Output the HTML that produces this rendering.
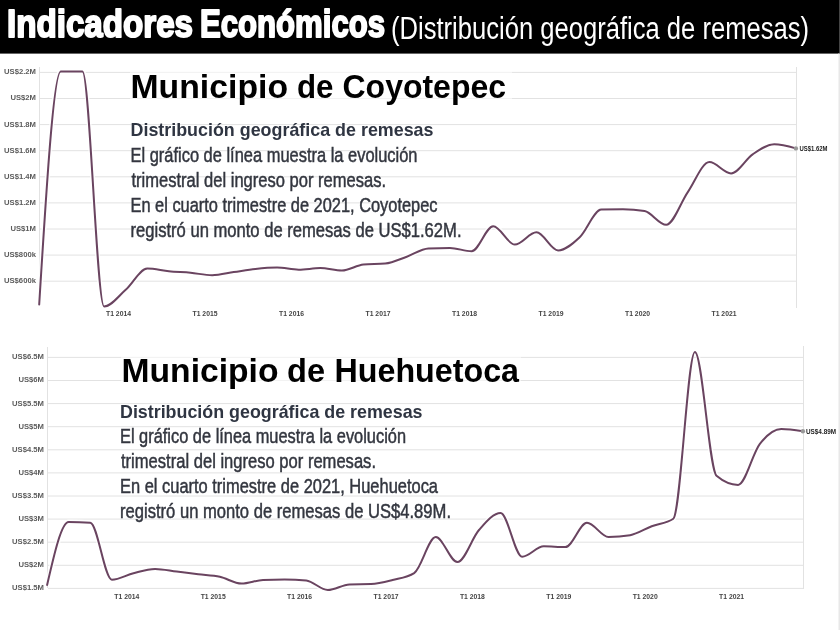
<!DOCTYPE html>
<html><head><meta charset="utf-8"><title>Indicadores Económicos</title>
<style>html,body{margin:0;padding:0;background:#fff;width:840px;height:630px;overflow:hidden;font-family:"Liberation Sans",sans-serif}svg{display:block;will-change:transform}</style>
</head><body>
<svg width="840" height="630" viewBox="0 0 840 630" font-family='"Liberation Sans", sans-serif'><rect x="0" y="0" width="840" height="53.6" fill="#000"/>
<rect x="839" y="0" width="1" height="53.6" fill="#444"/>
<rect x="838" y="53.6" width="1" height="576.4" fill="#f3f3f3"/>
<rect x="839" y="53.6" width="1" height="576.4" fill="#e8e8e8"/>
<text x="7.0" y="37.4" font-size="39.00" font-weight="bold" fill="#fff" text-anchor="start" textLength="186.0" lengthAdjust="spacingAndGlyphs" stroke="#fff" stroke-width="2.0" stroke-linejoin="round">Indicadores</text>
<text x="200.0" y="37.4" font-size="39.00" font-weight="bold" fill="#fff" text-anchor="start" textLength="185.0" lengthAdjust="spacingAndGlyphs" stroke="#fff" stroke-width="2.0" stroke-linejoin="round">Económicos</text>
<text x="391.0" y="38.6" font-size="31.00" font-weight="normal" fill="#fff" text-anchor="start" textLength="418.0" lengthAdjust="spacingAndGlyphs">(Distribución geográfica de remesas)</text>
<line x1="40" y1="72.4" x2="797" y2="72.4" stroke="#e2e2e2" stroke-width="1"/>
<line x1="40" y1="98.5" x2="797" y2="98.5" stroke="#e2e2e2" stroke-width="1"/>
<line x1="40" y1="124.6" x2="797" y2="124.6" stroke="#e2e2e2" stroke-width="1"/>
<line x1="40" y1="150.7" x2="797" y2="150.7" stroke="#e2e2e2" stroke-width="1"/>
<line x1="40" y1="176.8" x2="797" y2="176.8" stroke="#e2e2e2" stroke-width="1"/>
<line x1="40" y1="202.9" x2="797" y2="202.9" stroke="#e2e2e2" stroke-width="1"/>
<line x1="40" y1="229.0" x2="797" y2="229.0" stroke="#e2e2e2" stroke-width="1"/>
<line x1="40" y1="255.1" x2="797" y2="255.1" stroke="#e2e2e2" stroke-width="1"/>
<line x1="40" y1="281.2" x2="797" y2="281.2" stroke="#e2e2e2" stroke-width="1"/>
<line x1="39.5" y1="67" x2="39.5" y2="300" stroke="#e2e2e2" stroke-width="1"/>
<line x1="796.5" y1="67" x2="796.5" y2="308" stroke="#e2e2e2" stroke-width="1"/>
<line x1="48" y1="357.4" x2="804" y2="357.4" stroke="#e2e2e2" stroke-width="1"/>
<line x1="48" y1="380.5" x2="804" y2="380.5" stroke="#e2e2e2" stroke-width="1"/>
<line x1="48" y1="403.6" x2="804" y2="403.6" stroke="#e2e2e2" stroke-width="1"/>
<line x1="48" y1="426.7" x2="804" y2="426.7" stroke="#e2e2e2" stroke-width="1"/>
<line x1="48" y1="449.8" x2="804" y2="449.8" stroke="#e2e2e2" stroke-width="1"/>
<line x1="48" y1="472.9" x2="804" y2="472.9" stroke="#e2e2e2" stroke-width="1"/>
<line x1="48" y1="496.0" x2="804" y2="496.0" stroke="#e2e2e2" stroke-width="1"/>
<line x1="48" y1="519.1" x2="804" y2="519.1" stroke="#e2e2e2" stroke-width="1"/>
<line x1="48" y1="542.2" x2="804" y2="542.2" stroke="#e2e2e2" stroke-width="1"/>
<line x1="48" y1="565.3" x2="804" y2="565.3" stroke="#e2e2e2" stroke-width="1"/>
<line x1="48" y1="588.4" x2="804" y2="588.4" stroke="#e2e2e2" stroke-width="1"/>
<line x1="47.5" y1="347" x2="47.5" y2="588" stroke="#e2e2e2" stroke-width="1"/>
<line x1="803.5" y1="346" x2="803.5" y2="589" stroke="#e2e2e2" stroke-width="1"/>
<rect x="130" y="70" width="382" height="30" fill="#fff" fill-opacity="0.55"/>
<text x="130.5" y="97.8" font-size="33.20" font-weight="bold" fill="#000" text-anchor="start" textLength="157.5" lengthAdjust="spacingAndGlyphs">Municipio</text>
<text x="297.0" y="97.8" font-size="33.20" font-weight="bold" fill="#000" text-anchor="start" textLength="36.5" lengthAdjust="spacingAndGlyphs">de</text>
<text x="342.5" y="97.8" font-size="33.20" font-weight="bold" fill="#000" text-anchor="start" textLength="163.5" lengthAdjust="spacingAndGlyphs">Coyotepec</text>
<text x="130.5" y="136.4" font-size="18.40" font-weight="bold" fill="#2f3542" text-anchor="start" textLength="303.0" lengthAdjust="spacingAndGlyphs">Distribución geográfica de remesas</text>
<text x="130.5" y="162.1" font-size="20.50" font-weight="normal" fill="#33363f" text-anchor="start" textLength="287.0" lengthAdjust="spacingAndGlyphs" stroke="#33363f" stroke-width="0.5">El gráfico de línea muestra la evolución</text>
<text x="131.5" y="186.9" font-size="20.50" font-weight="normal" fill="#33363f" text-anchor="start" textLength="254.5" lengthAdjust="spacingAndGlyphs" stroke="#33363f" stroke-width="0.5">trimestral del ingreso por remesas.</text>
<text x="130.5" y="211.7" font-size="20.50" font-weight="normal" fill="#33363f" text-anchor="start" textLength="307.0" lengthAdjust="spacingAndGlyphs" stroke="#33363f" stroke-width="0.5">En el cuarto trimestre de 2021, Coyotepec</text>
<text x="130.5" y="236.5" font-size="20.50" font-weight="normal" fill="#33363f" text-anchor="start" textLength="331.0" lengthAdjust="spacingAndGlyphs" stroke="#33363f" stroke-width="0.5">registró un monto de remesas de US$1.62M.</text>
<rect x="121" y="355" width="400" height="30" fill="#fff" fill-opacity="0.55"/>
<text x="121.5" y="381.9" font-size="33.00" font-weight="bold" fill="#000" text-anchor="start" textLength="157.0" lengthAdjust="spacingAndGlyphs">Municipio</text>
<text x="287.0" y="381.9" font-size="33.00" font-weight="bold" fill="#000" text-anchor="start" textLength="38.0" lengthAdjust="spacingAndGlyphs">de</text>
<text x="334.5" y="381.9" font-size="33.00" font-weight="bold" fill="#000" text-anchor="start" textLength="184.5" lengthAdjust="spacingAndGlyphs">Huehuetoca</text>
<text x="120.0" y="417.6" font-size="18.40" font-weight="bold" fill="#2f3542" text-anchor="start" textLength="302.5" lengthAdjust="spacingAndGlyphs">Distribución geográfica de remesas</text>
<text x="120.0" y="442.8" font-size="20.50" font-weight="normal" fill="#33363f" text-anchor="start" textLength="286.0" lengthAdjust="spacingAndGlyphs" stroke="#33363f" stroke-width="0.5">El gráfico de línea muestra la evolución</text>
<text x="121.0" y="467.9" font-size="20.50" font-weight="normal" fill="#33363f" text-anchor="start" textLength="255.0" lengthAdjust="spacingAndGlyphs" stroke="#33363f" stroke-width="0.5">trimestral del ingreso por remesas.</text>
<text x="120.0" y="493.2" font-size="20.50" font-weight="normal" fill="#33363f" text-anchor="start" textLength="318.0" lengthAdjust="spacingAndGlyphs" stroke="#33363f" stroke-width="0.5">En el cuarto trimestre de 2021, Huehuetoca</text>
<text x="120.0" y="518.0" font-size="20.50" font-weight="normal" fill="#33363f" text-anchor="start" textLength="331.0" lengthAdjust="spacingAndGlyphs" stroke="#33363f" stroke-width="0.5">registró un monto de remesas de US$4.89M.</text>
<g transform="translate(35.9,74.30) scale(1.05,1)"><text x="0" y="0" font-size="7.3" font-weight="bold" fill="#5c5c5c" text-anchor="end">US$2.2M</text></g>
<g transform="translate(35.9,100.40) scale(1.05,1)"><text x="0" y="0" font-size="7.3" font-weight="bold" fill="#5c5c5c" text-anchor="end">US$2M</text></g>
<g transform="translate(35.9,126.50) scale(1.05,1)"><text x="0" y="0" font-size="7.3" font-weight="bold" fill="#5c5c5c" text-anchor="end">US$1.8M</text></g>
<g transform="translate(35.9,152.60) scale(1.05,1)"><text x="0" y="0" font-size="7.3" font-weight="bold" fill="#5c5c5c" text-anchor="end">US$1.6M</text></g>
<g transform="translate(35.9,178.70) scale(1.05,1)"><text x="0" y="0" font-size="7.3" font-weight="bold" fill="#5c5c5c" text-anchor="end">US$1.4M</text></g>
<g transform="translate(35.9,204.80) scale(1.05,1)"><text x="0" y="0" font-size="7.3" font-weight="bold" fill="#5c5c5c" text-anchor="end">US$1.2M</text></g>
<g transform="translate(35.9,230.90) scale(1.05,1)"><text x="0" y="0" font-size="7.3" font-weight="bold" fill="#5c5c5c" text-anchor="end">US$1M</text></g>
<g transform="translate(35.9,257.00) scale(1.05,1)"><text x="0" y="0" font-size="7.3" font-weight="bold" fill="#5c5c5c" text-anchor="end">US$800k</text></g>
<g transform="translate(35.9,283.10) scale(1.05,1)"><text x="0" y="0" font-size="7.3" font-weight="bold" fill="#5c5c5c" text-anchor="end">US$600k</text></g>
<g transform="translate(43.9,359.30) scale(1.05,1)"><text x="0" y="0" font-size="7.3" font-weight="bold" fill="#5c5c5c" text-anchor="end">US$6.5M</text></g>
<g transform="translate(43.9,382.40) scale(1.05,1)"><text x="0" y="0" font-size="7.3" font-weight="bold" fill="#5c5c5c" text-anchor="end">US$6M</text></g>
<g transform="translate(43.9,405.50) scale(1.05,1)"><text x="0" y="0" font-size="7.3" font-weight="bold" fill="#5c5c5c" text-anchor="end">US$5.5M</text></g>
<g transform="translate(43.9,428.60) scale(1.05,1)"><text x="0" y="0" font-size="7.3" font-weight="bold" fill="#5c5c5c" text-anchor="end">US$5M</text></g>
<g transform="translate(43.9,451.70) scale(1.05,1)"><text x="0" y="0" font-size="7.3" font-weight="bold" fill="#5c5c5c" text-anchor="end">US$4.5M</text></g>
<g transform="translate(43.9,474.80) scale(1.05,1)"><text x="0" y="0" font-size="7.3" font-weight="bold" fill="#5c5c5c" text-anchor="end">US$4M</text></g>
<g transform="translate(43.9,497.90) scale(1.05,1)"><text x="0" y="0" font-size="7.3" font-weight="bold" fill="#5c5c5c" text-anchor="end">US$3.5M</text></g>
<g transform="translate(43.9,521.00) scale(1.05,1)"><text x="0" y="0" font-size="7.3" font-weight="bold" fill="#5c5c5c" text-anchor="end">US$3M</text></g>
<g transform="translate(43.9,544.10) scale(1.05,1)"><text x="0" y="0" font-size="7.3" font-weight="bold" fill="#5c5c5c" text-anchor="end">US$2.5M</text></g>
<g transform="translate(43.9,567.20) scale(1.05,1)"><text x="0" y="0" font-size="7.3" font-weight="bold" fill="#5c5c5c" text-anchor="end">US$2M</text></g>
<g transform="translate(43.9,590.30) scale(1.05,1)"><text x="0" y="0" font-size="7.3" font-weight="bold" fill="#5c5c5c" text-anchor="end">US$1.5M</text></g>
<text x="118.5" y="315.8" font-size="7.40" font-weight="bold" fill="#444" text-anchor="middle" textLength="25.0" lengthAdjust="spacingAndGlyphs">T1 2014</text>
<text x="126.8" y="599.3" font-size="7.40" font-weight="bold" fill="#444" text-anchor="middle" textLength="25.0" lengthAdjust="spacingAndGlyphs">T1 2014</text>
<text x="205.0" y="315.8" font-size="7.40" font-weight="bold" fill="#444" text-anchor="middle" textLength="25.0" lengthAdjust="spacingAndGlyphs">T1 2015</text>
<text x="213.2" y="599.3" font-size="7.40" font-weight="bold" fill="#444" text-anchor="middle" textLength="25.0" lengthAdjust="spacingAndGlyphs">T1 2015</text>
<text x="291.5" y="315.8" font-size="7.40" font-weight="bold" fill="#444" text-anchor="middle" textLength="25.0" lengthAdjust="spacingAndGlyphs">T1 2016</text>
<text x="299.6" y="599.3" font-size="7.40" font-weight="bold" fill="#444" text-anchor="middle" textLength="25.0" lengthAdjust="spacingAndGlyphs">T1 2016</text>
<text x="378.0" y="315.8" font-size="7.40" font-weight="bold" fill="#444" text-anchor="middle" textLength="25.0" lengthAdjust="spacingAndGlyphs">T1 2017</text>
<text x="386.0" y="599.3" font-size="7.40" font-weight="bold" fill="#444" text-anchor="middle" textLength="25.0" lengthAdjust="spacingAndGlyphs">T1 2017</text>
<text x="464.5" y="315.8" font-size="7.40" font-weight="bold" fill="#444" text-anchor="middle" textLength="25.0" lengthAdjust="spacingAndGlyphs">T1 2018</text>
<text x="472.4" y="599.3" font-size="7.40" font-weight="bold" fill="#444" text-anchor="middle" textLength="25.0" lengthAdjust="spacingAndGlyphs">T1 2018</text>
<text x="551.0" y="315.8" font-size="7.40" font-weight="bold" fill="#444" text-anchor="middle" textLength="25.0" lengthAdjust="spacingAndGlyphs">T1 2019</text>
<text x="558.8" y="599.3" font-size="7.40" font-weight="bold" fill="#444" text-anchor="middle" textLength="25.0" lengthAdjust="spacingAndGlyphs">T1 2019</text>
<text x="637.5" y="315.8" font-size="7.40" font-weight="bold" fill="#444" text-anchor="middle" textLength="25.0" lengthAdjust="spacingAndGlyphs">T1 2020</text>
<text x="645.2" y="599.3" font-size="7.40" font-weight="bold" fill="#444" text-anchor="middle" textLength="25.0" lengthAdjust="spacingAndGlyphs">T1 2020</text>
<text x="724.0" y="315.8" font-size="7.40" font-weight="bold" fill="#444" text-anchor="middle" textLength="25.0" lengthAdjust="spacingAndGlyphs">T1 2021</text>
<text x="731.6" y="599.3" font-size="7.40" font-weight="bold" fill="#444" text-anchor="middle" textLength="25.0" lengthAdjust="spacingAndGlyphs">T1 2021</text>
<path d="M39.20,304.50 C46.41,188.00 53.61,71.50 60.82,71.50 C68.03,71.50 75.23,71.50 82.44,71.50 C89.65,71.50 96.85,306.50 104.06,306.50 C111.27,306.50 118.47,296.12 125.68,289.80 C132.89,283.48 140.09,268.60 147.30,268.60 C154.51,268.60 161.71,270.60 168.92,271.30 C176.13,272.00 183.33,272.15 190.54,272.80 C197.75,273.45 204.95,275.20 212.16,275.20 C219.37,275.20 226.57,273.15 233.78,272.10 C240.99,271.05 248.19,269.67 255.40,268.90 C262.61,268.13 269.81,267.50 277.02,267.50 C284.23,267.50 291.43,269.70 298.64,269.70 C305.85,269.70 313.05,268.10 320.26,268.10 C327.47,268.10 334.67,270.50 341.88,270.50 C349.09,270.50 356.29,265.17 363.50,264.50 C370.71,263.83 377.91,264.17 385.12,263.50 C392.33,262.83 399.53,259.20 406.74,256.70 C413.95,254.20 421.15,248.83 428.36,248.50 C435.57,248.17 442.77,248.00 449.98,248.00 C457.19,248.00 464.39,251.25 471.60,251.25 C478.81,251.25 486.01,226.30 493.22,226.30 C500.43,226.30 507.63,244.60 514.84,244.60 C522.05,244.60 529.25,232.30 536.46,232.30 C543.67,232.30 550.87,250.40 558.08,250.40 C565.29,250.40 572.49,244.10 579.70,237.30 C586.91,230.50 594.11,209.80 601.32,209.60 C608.53,209.40 615.73,209.30 622.94,209.30 C630.15,209.30 637.35,209.90 644.56,211.10 C651.77,212.30 658.97,224.80 666.18,224.80 C673.39,224.80 680.59,202.55 687.80,192.10 C695.01,181.65 702.21,162.10 709.42,162.10 C716.63,162.10 723.83,173.40 731.04,173.40 C738.25,173.40 745.45,159.15 752.66,154.30 C759.87,149.45 767.07,144.30 774.28,144.30 C781.49,144.30 788.69,146.35 795.90,148.40" fill="none" stroke="#fff" stroke-width="5" stroke-opacity="0.8" stroke-linejoin="round"/>
<path d="M47.10,585.00 C54.30,553.50 61.50,522.00 68.69,522.00 C75.89,522.00 83.09,522.23 90.29,522.70 C97.49,523.17 104.68,579.70 111.88,579.70 C119.08,579.70 126.28,574.98 133.48,573.20 C140.67,571.42 147.87,569.00 155.07,569.00 C162.27,569.00 169.47,570.72 176.66,571.60 C183.86,572.48 191.06,573.43 198.26,574.30 C205.46,575.17 212.65,575.25 219.85,576.80 C227.05,578.35 234.25,583.60 241.45,583.60 C248.64,583.60 255.84,580.33 263.04,580.00 C270.24,579.67 277.44,579.50 284.63,579.50 C291.83,579.50 299.03,579.83 306.23,580.50 C313.43,581.17 320.62,590.00 327.82,590.00 C335.02,590.00 342.22,584.77 349.42,584.50 C356.61,584.23 363.81,584.37 371.01,584.10 C378.21,583.83 385.41,581.83 392.60,580.00 C399.80,578.17 407.00,577.70 414.20,573.10 C421.40,568.50 428.59,537.10 435.79,537.10 C442.99,537.10 450.19,562.10 457.39,562.10 C464.58,562.10 471.78,538.18 478.98,530.00 C486.18,521.82 493.38,513.00 500.57,513.00 C507.77,513.00 514.97,556.80 522.17,556.80 C529.37,556.80 536.56,546.30 543.76,546.30 C550.96,546.30 558.16,547.10 565.36,547.10 C572.55,547.10 579.75,522.70 586.95,522.70 C594.15,522.70 601.35,537.00 608.54,537.00 C615.74,537.00 622.94,536.40 630.14,535.20 C637.34,534.00 644.53,528.99 651.73,526.25 C658.93,523.51 666.13,523.75 673.33,518.75 C680.52,513.75 687.72,352.10 694.92,352.10 C702.12,352.10 709.32,469.73 716.51,475.80 C723.71,481.87 730.91,484.90 738.11,484.90 C745.31,484.90 752.50,453.42 759.70,444.10 C766.90,434.78 774.10,429.00 781.30,429.00 C788.49,429.00 795.69,430.10 802.89,431.20" fill="none" stroke="#fff" stroke-width="5" stroke-opacity="0.8" stroke-linejoin="round"/>
<path d="M39.20,304.50 C46.41,188.00 53.61,71.50 60.82,71.50 C68.03,71.50 75.23,71.50 82.44,71.50 C89.65,71.50 96.85,306.50 104.06,306.50 C111.27,306.50 118.47,296.12 125.68,289.80 C132.89,283.48 140.09,268.60 147.30,268.60 C154.51,268.60 161.71,270.60 168.92,271.30 C176.13,272.00 183.33,272.15 190.54,272.80 C197.75,273.45 204.95,275.20 212.16,275.20 C219.37,275.20 226.57,273.15 233.78,272.10 C240.99,271.05 248.19,269.67 255.40,268.90 C262.61,268.13 269.81,267.50 277.02,267.50 C284.23,267.50 291.43,269.70 298.64,269.70 C305.85,269.70 313.05,268.10 320.26,268.10 C327.47,268.10 334.67,270.50 341.88,270.50 C349.09,270.50 356.29,265.17 363.50,264.50 C370.71,263.83 377.91,264.17 385.12,263.50 C392.33,262.83 399.53,259.20 406.74,256.70 C413.95,254.20 421.15,248.83 428.36,248.50 C435.57,248.17 442.77,248.00 449.98,248.00 C457.19,248.00 464.39,251.25 471.60,251.25 C478.81,251.25 486.01,226.30 493.22,226.30 C500.43,226.30 507.63,244.60 514.84,244.60 C522.05,244.60 529.25,232.30 536.46,232.30 C543.67,232.30 550.87,250.40 558.08,250.40 C565.29,250.40 572.49,244.10 579.70,237.30 C586.91,230.50 594.11,209.80 601.32,209.60 C608.53,209.40 615.73,209.30 622.94,209.30 C630.15,209.30 637.35,209.90 644.56,211.10 C651.77,212.30 658.97,224.80 666.18,224.80 C673.39,224.80 680.59,202.55 687.80,192.10 C695.01,181.65 702.21,162.10 709.42,162.10 C716.63,162.10 723.83,173.40 731.04,173.40 C738.25,173.40 745.45,159.15 752.66,154.30 C759.87,149.45 767.07,144.30 774.28,144.30 C781.49,144.30 788.69,146.35 795.90,148.40" fill="none" stroke="#6a4460" stroke-width="2.0" stroke-linejoin="round" stroke-linecap="round"/>
<path d="M47.10,585.00 C54.30,553.50 61.50,522.00 68.69,522.00 C75.89,522.00 83.09,522.23 90.29,522.70 C97.49,523.17 104.68,579.70 111.88,579.70 C119.08,579.70 126.28,574.98 133.48,573.20 C140.67,571.42 147.87,569.00 155.07,569.00 C162.27,569.00 169.47,570.72 176.66,571.60 C183.86,572.48 191.06,573.43 198.26,574.30 C205.46,575.17 212.65,575.25 219.85,576.80 C227.05,578.35 234.25,583.60 241.45,583.60 C248.64,583.60 255.84,580.33 263.04,580.00 C270.24,579.67 277.44,579.50 284.63,579.50 C291.83,579.50 299.03,579.83 306.23,580.50 C313.43,581.17 320.62,590.00 327.82,590.00 C335.02,590.00 342.22,584.77 349.42,584.50 C356.61,584.23 363.81,584.37 371.01,584.10 C378.21,583.83 385.41,581.83 392.60,580.00 C399.80,578.17 407.00,577.70 414.20,573.10 C421.40,568.50 428.59,537.10 435.79,537.10 C442.99,537.10 450.19,562.10 457.39,562.10 C464.58,562.10 471.78,538.18 478.98,530.00 C486.18,521.82 493.38,513.00 500.57,513.00 C507.77,513.00 514.97,556.80 522.17,556.80 C529.37,556.80 536.56,546.30 543.76,546.30 C550.96,546.30 558.16,547.10 565.36,547.10 C572.55,547.10 579.75,522.70 586.95,522.70 C594.15,522.70 601.35,537.00 608.54,537.00 C615.74,537.00 622.94,536.40 630.14,535.20 C637.34,534.00 644.53,528.99 651.73,526.25 C658.93,523.51 666.13,523.75 673.33,518.75 C680.52,513.75 687.72,352.10 694.92,352.10 C702.12,352.10 709.32,469.73 716.51,475.80 C723.71,481.87 730.91,484.90 738.11,484.90 C745.31,484.90 752.50,453.42 759.70,444.10 C766.90,434.78 774.10,429.00 781.30,429.00 C788.49,429.00 795.69,430.10 802.89,431.20" fill="none" stroke="#6a4460" stroke-width="2.0" stroke-linejoin="round" stroke-linecap="round"/>
<circle cx="795.9" cy="148.4" r="2.2" fill="#999"/>
<circle cx="802.9" cy="431.2" r="2.2" fill="#999"/>
<text x="799.5" y="150.6" font-size="7.00" font-weight="bold" fill="#222" text-anchor="start" textLength="28.0" lengthAdjust="spacingAndGlyphs">US$1.62M</text>
<text x="806.0" y="433.6" font-size="7.00" font-weight="bold" fill="#222" text-anchor="start" textLength="30.0" lengthAdjust="spacingAndGlyphs">US$4.89M</text></svg>
</body></html>
